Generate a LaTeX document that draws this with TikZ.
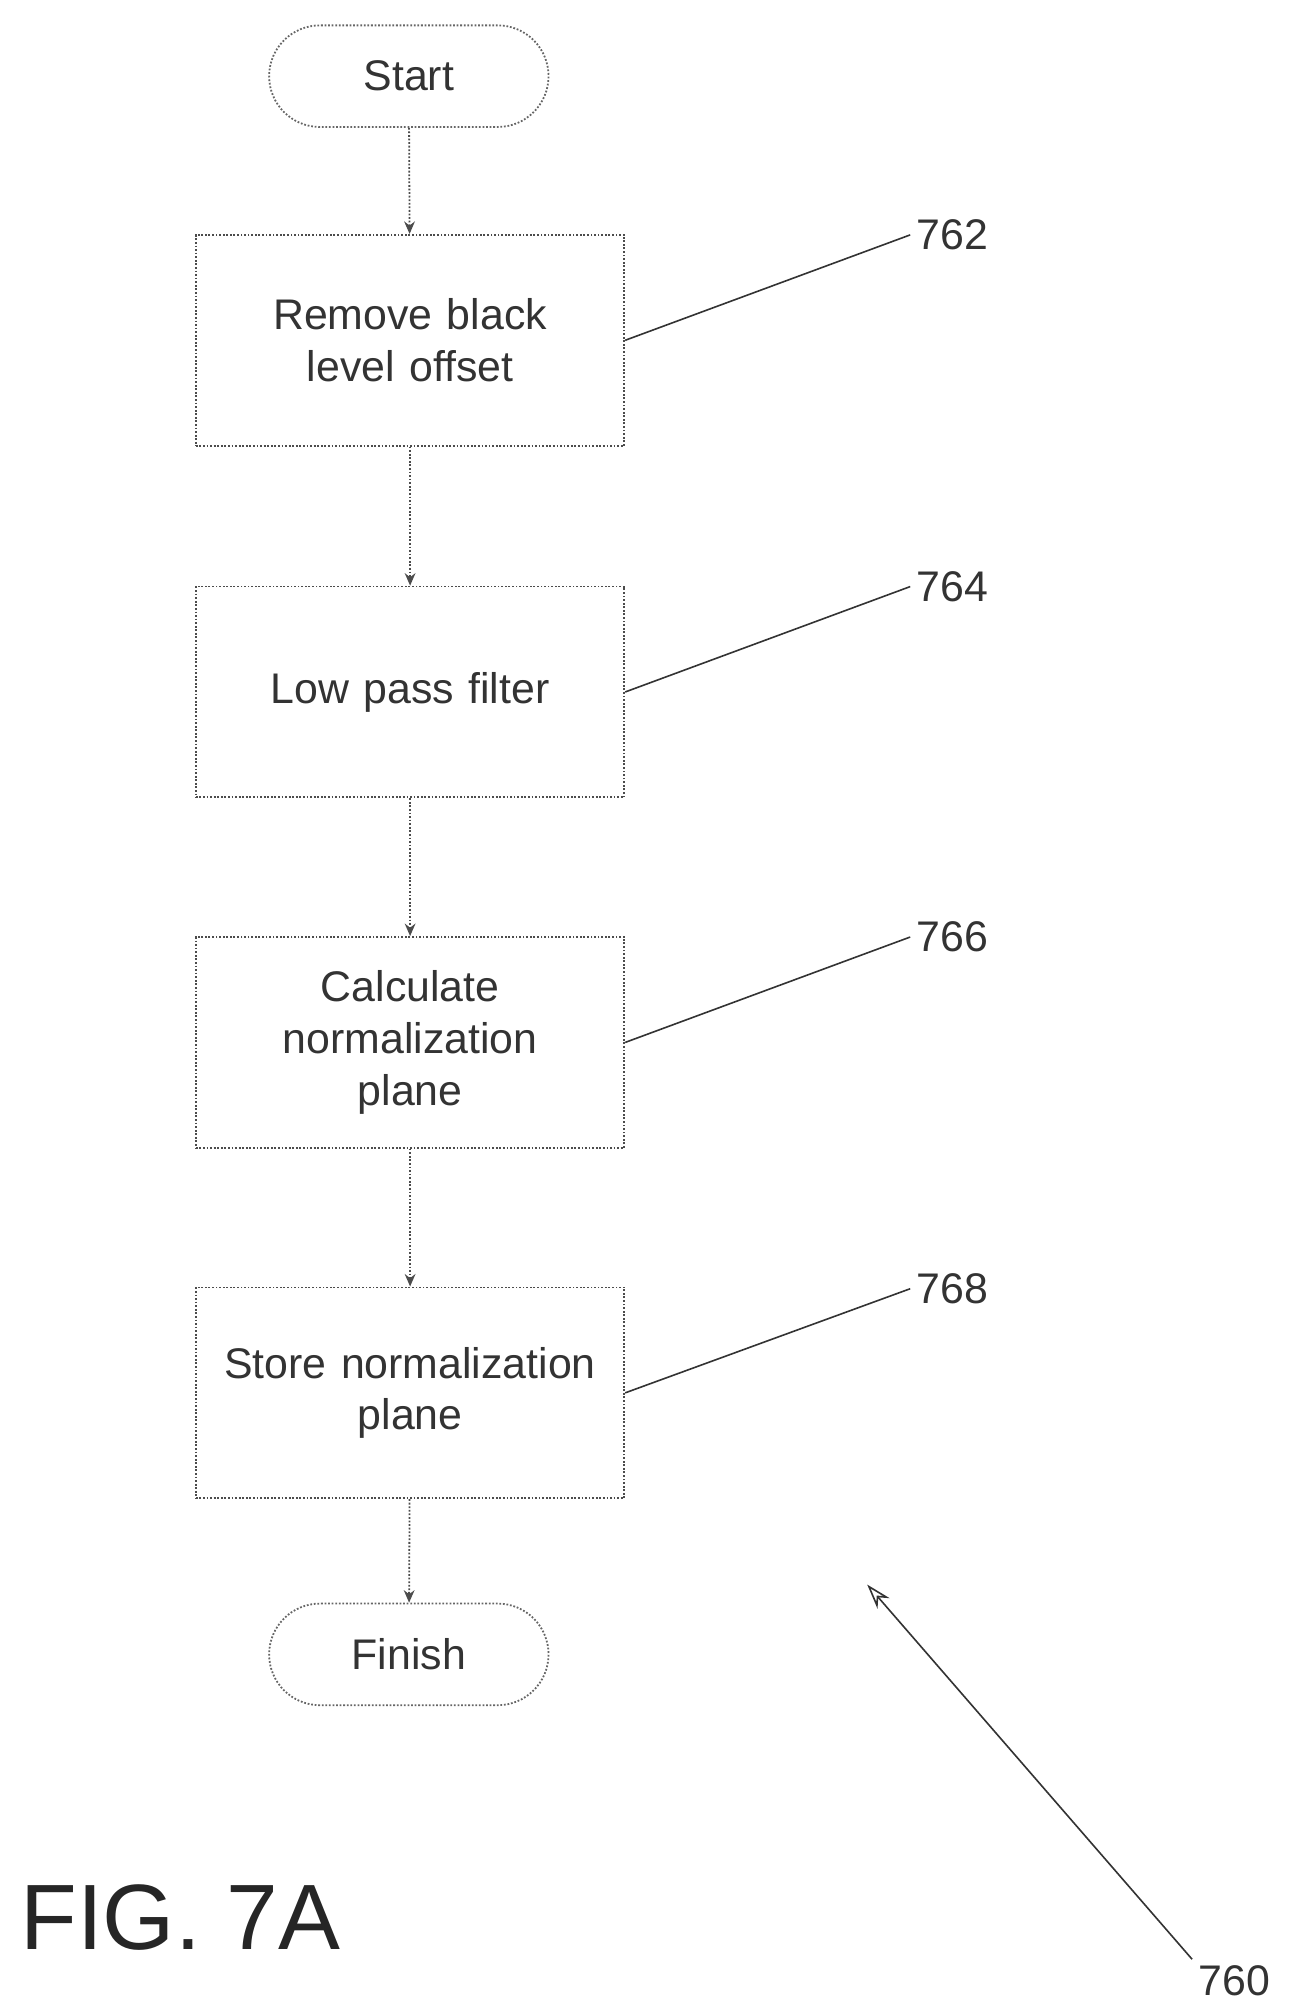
\documentclass[tikz,border=0pt]{standalone}
\usepackage{fontspec}
\setmainfont{Liberation Sans}
\usetikzlibrary{arrows.meta, positioning}

\begin{document}
\begin{tikzpicture}[x=0.025cm, y=-0.025cm,
    process/.style={rectangle, draw=black!70, densely dotted, line width=1pt, minimum width=8.35cm, minimum height=4.15cm, text width=8.2cm, align=center, font=\fontsize{24}{29}\selectfont, text=black!80},
    term/.style={rectangle, rounded corners=1cm, draw=black!60, densely dotted, line width=1pt, minimum width=5.5cm, minimum height=2cm, font=\fontsize{24}{29}\selectfont, text=black!80},
    line/.style={draw=black!70, densely dotted, line width=1pt, -{Stealth[length=7pt, width=6pt]}},
    lead/.style={draw=black!80, line width=0.9pt},
    ref/.style={font=\fontsize{24}{28}\selectfont, text=black!80}
]
    \useasboundingbox (0,0) rectangle (1024,1576);

    % Flow
    \node [term] (start) at (322,60) {Start};
    \node [process] (offset) at (323,268) {Remove black\\level offset};
    \node [process] (lowpass) at (323,545) {Low pass filter};
    \node [process] (calc) at (323,821) {Calculate\\normalization\\plane};
    \node [process] (store) at (323,1097) {Store normalization\\plane};
    \node [term] (finish) at (322,1303) {Finish};

    % Reference numerals
    \node [ref] (n762) at (750,185) {762};
    \node [ref] (n764) at (750,462) {764};
    \node [ref] (n766) at (750,738) {766};
    \node [ref] (n768) at (750,1015) {768};
    \node [ref] (n760) at (972,1560) {760};
    \coordinate (tip) at (683,1248);
    \node [font=\fontsize{52}{56}\selectfont, text=black!85] (fig) at (142,1510) {FIG. 7A};

    % Connections
    \path [line] (start) -- (offset);
    \path [line] (offset) -- (lowpass);
    \path [line] (lowpass) -- (calc);
    \path [line] (calc) -- (store);
    \path [line] (store) -- (finish);

    \draw [lead] (offset.east) -- (n762.west);
    \draw [lead] (lowpass.east) -- (n764.west);
    \draw [lead] (calc.east) -- (n766.west);
    \draw [lead] (store.east) -- (n768.west);
    \draw [lead, -{Stealth[length=14pt, width=9pt, open]}] (n760.north west) -- (tip);
\end{tikzpicture}
\end{document}
